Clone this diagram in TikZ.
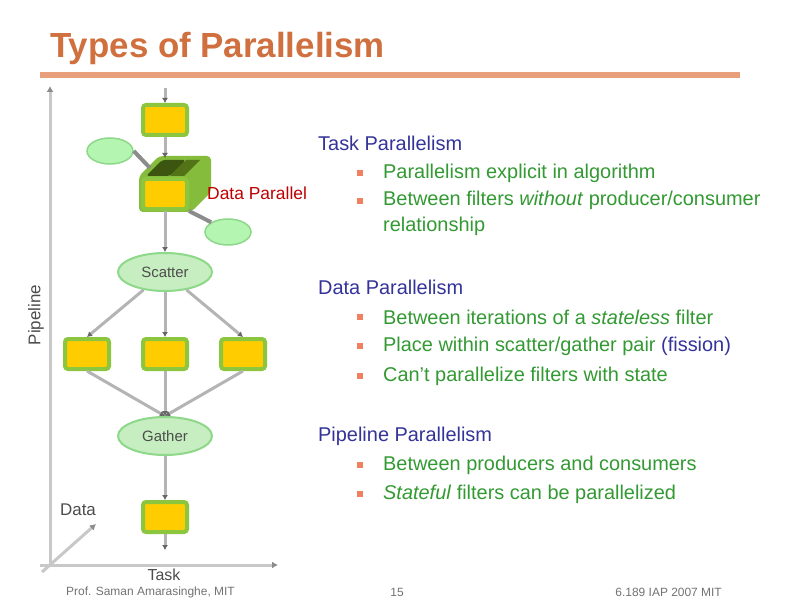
\documentclass[tikz,border=0pt]{standalone}
\usepackage{fontspec}
\setmainfont{Liberation Sans}
\usetikzlibrary{shapes.geometric,arrows.meta}
\definecolor{titlecol}{HTML}{D0703F}
\definecolor{barcol}{HTML}{E8A07C}
\definecolor{headcol}{HTML}{333399}
\definecolor{bodycol}{HTML}{339933}
\definecolor{bulcol}{HTML}{F08060}
\definecolor{fgreen}{HTML}{8CC63F}
\definecolor{fedge}{HTML}{6E9A1E}
\definecolor{fyel}{HTML}{FFCC00}
\definecolor{elfill}{HTML}{C6EEC0}
\definecolor{eledge}{HTML}{8ED88A}
\definecolor{linecol}{HTML}{B4B4B4}
\definecolor{axcol}{HTML}{C8C8C8}
\begin{document}
\begin{tikzpicture}[x=1bp,y=-1bp,
  filterbox/.style={draw=fgreen,line width=4bp,fill=fyel,rounded corners=3bp,minimum width=44bp,minimum height=30bp,inner sep=0pt},
  splitnode/.style={ellipse,draw=eledge,line width=2bp,fill=elfill,minimum width=94bp,minimum height=38bp,inner sep=0pt,font=\fontsize{15}{17}\selectfont,text=black!70},
  smallel/.style={ellipse,draw=eledge,line width=1.5bp,fill=elfill!75!green!70!white,minimum width=46bp,minimum height=26bp,inner sep=0pt},
  conn/.style={draw=linecol,line width=3bp,-{Latex[length=5bp,width=6bp,color=black!60]}},
  axis/.style={draw=axcol,line width=3bp,-{Latex[length=6bp,width=7bp,color=black!45]}},
  head/.style={anchor=west,text=headcol,font=\fontsize{20}{25}\selectfont,inner sep=0pt},
  body/.style={anchor=west,text=bodycol,font=\fontsize{20}{26}\selectfont,inner sep=0pt,align=left},
  bul/.style={fill=bulcol,minimum size=6bp,inner sep=0pt},
  axlab/.style={font=\fontsize{17}{20}\selectfont,text=black!70},
  foot/.style={text=black!55,font=\fontsize{12}{14}\selectfont,inner sep=0pt}]
\useasboundingbox (0,0) rectangle (792,612);
\fill[white] (0,0) rectangle (792,612);
% title
\node[anchor=west,text=titlecol,font=\bfseries\fontsize{35}{40}\selectfont,inner sep=0pt] (title) at (50,48) {Types of Parallelism};
\fill[barcol] (40,72) rectangle (740,78);
% axes
\coordinate (origin) at (50,565);
\coordinate (ytop) at (50,86);
\coordinate (xend) at (278,565);
\coordinate (dend) at (96,524);
\draw[axis] (origin) -- (ytop);
\draw[axis] (40,565) -- (xend);
\draw[axis] (42,572) -- (dend);
\node[rotate=90,axlab] (pipelab) at (36,315) {Pipeline};
\node[axlab,font=\fontsize{16}{18}\selectfont,inner sep=0pt] (tasklab) at (164,575) {Task};
\node[axlab] (datalab) at (78,510) {Data};
% cube behind second filter
\fill[fgreen!95!black,rounded corners=4bp] (139,176) -- (159,156) -- (211,156) -- (211,192) -- (191,212) -- (139,212) -- cycle;
\fill[fedge!55!black,rounded corners=3bp] (146,176) -- (162,160) -- (186,160) -- (170,176) -- cycle;
\fill[fedge!75!black] (170,176) -- (186,160) -- (200,160) -- (184,176) -- cycle;
% nodes
\coordinate (topin) at (165,88);
\node[filterbox] (f1) at (165,120) {};
\node[filterbox] (f2) at (165,194) {};
\node[smallel] (sl) at (110,151) {};
\node[smallel] (sr) at (228,232) {};
\node[splitnode] (scatter) at (165,272) {Scatter};
\node[filterbox] (p1) at (87,354) {};
\node[filterbox] (p2) at (165,354) {};
\node[filterbox] (p3) at (243,354) {};
\node[splitnode] (gather) at (165,436) {Gather};
\node[filterbox] (f3) at (165,517) {};
\coordinate (botout) at (165,550);
\node[anchor=west,text=red!75!black,font=\fontsize{17.5}{20}\selectfont,inner sep=0pt] (dplab) at (207,193) {Data Parallel};
% connectors
\draw[conn] (topin) -- (f1);
\draw[conn] (f1) -- (165,158);
\draw[draw=black!45,line width=4bp] (sl.east) -- (150,168);
\draw[draw=black!45,line width=4bp] (f2.south east) -- (sr.north west);
\draw[conn] (f2) -- (scatter);
\draw[conn] (scatter) -- (p1.north);
\draw[conn] (scatter) -- (p2);
\draw[conn] (scatter) -- (p3.north);
\draw[conn] (p1.south) -- (gather.north);
\draw[conn] (p2) -- (gather);
\draw[conn] (p3.south) -- (gather.north);
\draw[conn] (gather) -- (f3);
\draw[conn] (f3) -- (botout);
% text
\node[head] (h1) at (318,143) {Task Parallelism};
\node[bul] (b11) at (360,173) {};
\node[body] (t11) at (383,173) {Parallelism explicit in algorithm};
\node[bul] (b12) at (360,201) {};
\node[body,anchor=north west] (t12) at (383,191) {Between filters \textit{without} producer/consumer\\relationship};
\node[head] (h2) at (318,287) {Data Parallelism};
\node[bul] (b21) at (360,317) {};
\node[body] (t21) at (383,317) {Between iterations of a \textit{stateless} filter};
\node[bul] (b22) at (360,346) {};
\node[body] (t22) at (383,346) {Place within scatter/gather pair {\color{headcol}(fission)}};
\node[bul] (b23) at (360,376) {};
\node[body] (t23) at (383,376) {Can't parallelize filters with state};
\node[head] (h3) at (318,436) {Pipeline Parallelism};
\node[bul] (b31) at (360,465) {};
\node[body] (t31) at (383,465) {Between producers and consumers};
\node[bul] (b32) at (360,494) {};
\node[body] (t32) at (383,494) {\textit{Stateful} filters can be parallelized};
% footer
\node[foot,anchor=west] (fl) at (66,592) {Prof. Saman Amarasinghe, MIT};
\node[foot] (fc) at (397,592) {15};
\node[foot,anchor=east] (fr) at (722,592) {6.189 IAP 2007 MIT};
\end{tikzpicture}
\end{document}
